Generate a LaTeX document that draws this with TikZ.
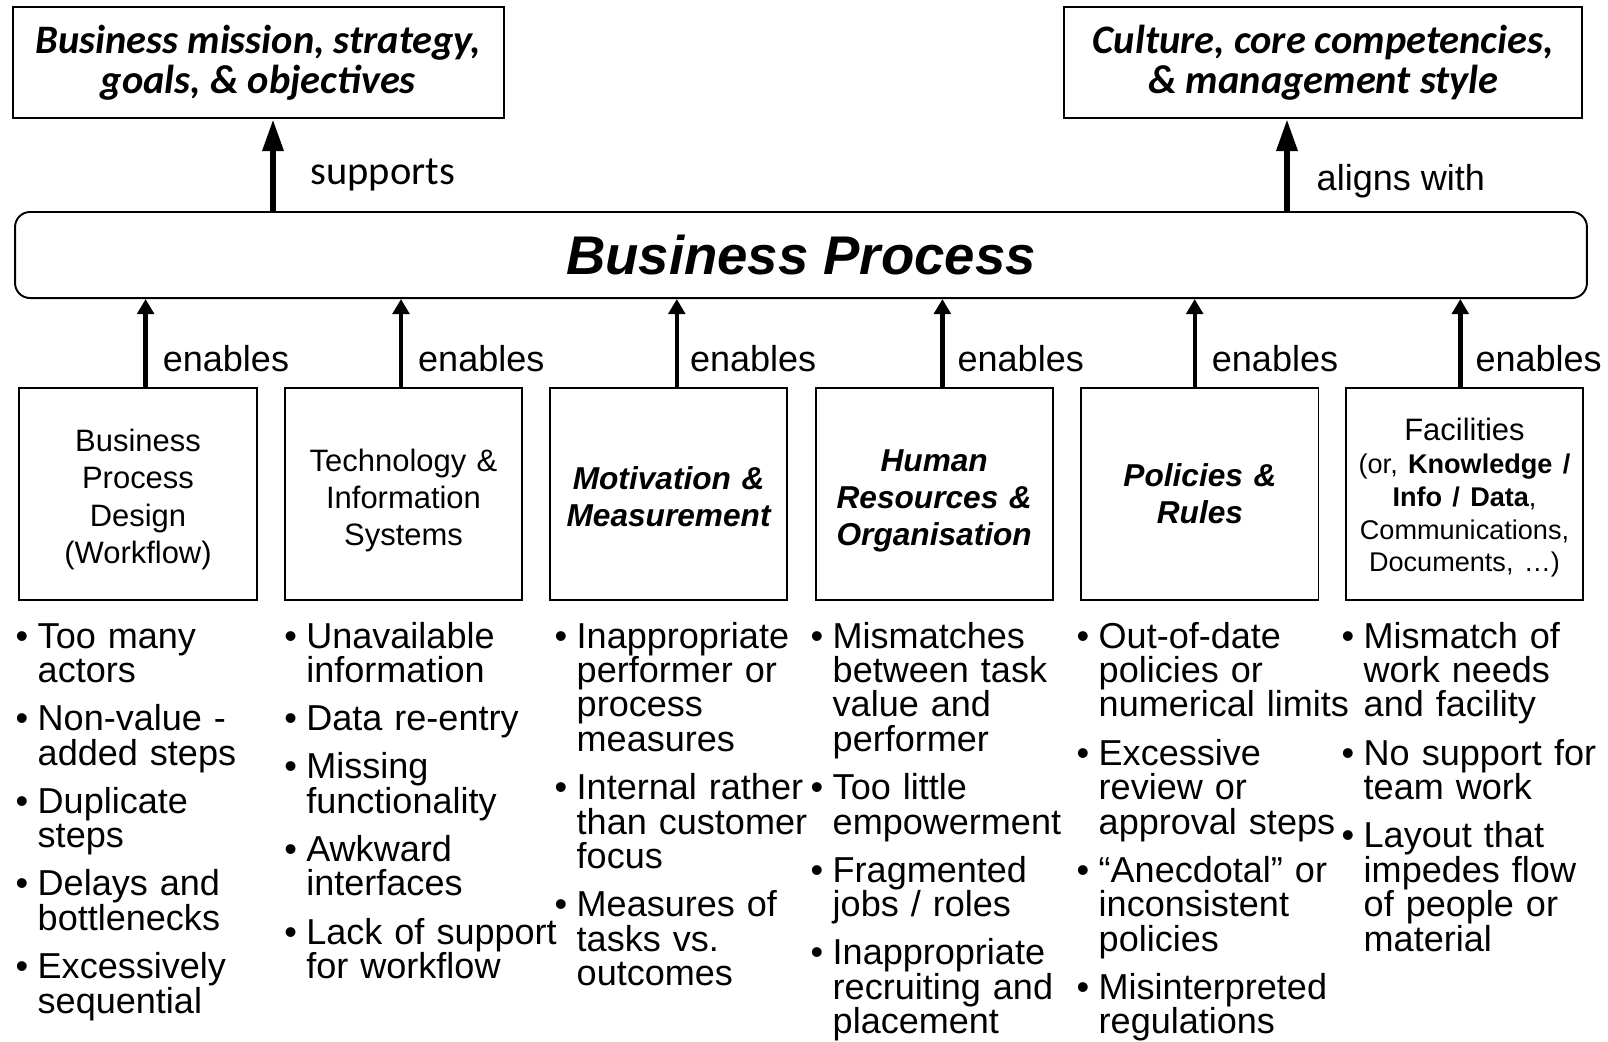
\documentclass[tikz,border=0pt]{standalone}
\usepackage{fontspec}
\setmainfont{Liberation Sans}
\newfontfamily\calibri{Carlito}
\usetikzlibrary{arrows.meta,positioning}

% one bullet point of a problem list
\newcommand{\issue}[1]{\par\hangindent=0.22cm\hangafter=1\noindent\makebox[0.22cm][l]{\textbullet}\rule{0pt}{7.5pt}#1\par}

\tikzset{
  goalbox/.style={draw, line width=0.55pt, minimum height=1.11cm, inner sep=0pt, align=center,
    font=\calibri\bfseries\itshape\fontsize{11.5}{11.4}\selectfont},
  procbox/.style={draw, line width=0.55pt, rounded corners=0.15cm, minimum width=15.71cm, minimum height=0.86cm,
    font=\bfseries\itshape\fontsize{15.5}{18}\selectfont},
  enabler/.style={draw, line width=0.55pt, text width=2.37cm, minimum height=2.11cm, inner sep=0pt, align=center,
    font=\fontsize{8.8}{10.6}\selectfont},
  keyenabler/.style={enabler, font=\bfseries\itshape\fontsize{9}{10.5}\selectfont},
  textdrop/.style={execute at begin node={\vskip#1}},
  bigarrow/.style={-{Triangle[length=0.32cm,width=0.2cm]}, line width=1.8pt},
  enarrow/.style={-{Triangle[length=0.15cm,width=0.165cm]}, line width=1.25pt},
  enlbl/.style={pos=0.326, anchor=west, xshift=0.15cm, inner sep=0pt, font=\fontsize{10.25}{12}\selectfont},
  lbl/.style={anchor=west, inner sep=0pt, font=\fontsize{10.25}{12}\selectfont},
  issues/.style={anchor=north west, inner sep=0pt, text width=2.8cm, align=left,
    font=\fontsize{10.25}{9.8}\selectfont,
    execute at begin node={\setlength{\parskip}{3.9pt}\lineskiplimit=-\maxdimen}}
}

\begin{document}
\begin{tikzpicture}[x=0.01cm, y=-0.01cm]
    \useasboundingbox (0,0) rectangle (1608,1041);

    % Goals at the top
    \node[goalbox, minimum width=4.90cm] (mission) at (258.4,62.6) {Business mission, strategy,\\goals, \& objectives};
    \node[goalbox, minimum width=5.18cm] (culture) at (1323.3,62.5) {Culture, core competencies,\\\& management style};

    % The process
    \node[procbox] (bp) at (801,255) {Business Process};

    \draw[bigarrow] ([xshift=0.146cm]mission.south |- bp.north) -- ([xshift=0.146cm]mission.south);
    \draw[bigarrow] ([xshift=-0.363cm]culture.south |- bp.north) -- ([xshift=-0.363cm]culture.south);
    \node[lbl, font=\calibri\fontsize{11.5}{14}\selectfont] (sup) at (310,175) {supports};
    \node[lbl] (ali) at (1316,181) {aligns with};

    % Enablers
    \node[enabler, textdrop=-0.04cm] (b1) at (138,494) {Business\\Process\\Design\\(Workflow)};
    \node[enabler, textdrop=-0.02cm] (b2) at (403.5,494) {Technology \&\\Information\\Systems};
    \node[keyenabler, textdrop=-0.08cm] (b3) at (668.6,494) {Motivation \&\\Measurement};
    \node[keyenabler, textdrop=-0.02cm] (b4) at (934.2,494) {Human\\Resources \&\\Organisation};
    \node[keyenabler] (b5) at (1199.9,494) {Policies \&\\Rules};
    \node[enabler, textdrop=-0.07cm] (b6) at (1464.5,494) {Facilities\\{\fontsize{7.7}{9.3}\selectfont (or, \textbf{Knowledge /}\\\textbf{Info / Data},\\Communications,\\Documents, …)\par}};

    \draw[enarrow] ([xshift=0.076cm]b1.north) -- node[enlbl] (e1) {enables} ([xshift=0.076cm]b1.north |- bp.south);
    \draw[enarrow] ([xshift=-0.025cm]b2.north) -- node[enlbl] (e2) {enables} ([xshift=-0.025cm]b2.north |- bp.south);
    \draw[enarrow] ([xshift=0.082cm]b3.north) -- node[enlbl, xshift=-0.04cm] (e3) {enables} ([xshift=0.082cm]b3.north |- bp.south);
    \draw[enarrow] ([xshift=0.082cm]b4.north) -- node[enlbl, xshift=-0.02cm] (e4) {enables} ([xshift=0.082cm]b4.north |- bp.south);
    \draw[enarrow] ([xshift=-0.052cm]b5.north) -- node[enlbl] (e5) {enables} ([xshift=-0.052cm]b5.north |- bp.south);
    \draw[enarrow] ([xshift=-0.042cm]b6.north) -- node[enlbl, xshift=-0.02cm] (e6) {enables} ([xshift=-0.042cm]b6.north |- bp.south);

    % Typical problems under each enabler
    \node[issues] (p1) at (15,599.1) {%
      \issue{Too many\newline actors}
      \issue{Non-value -\newline added steps}
      \issue{Duplicate\newline steps}
      \issue{Delays and\newline bottlenecks}
      \issue{Excessively\newline sequential}};
    \node[issues] (p2) at (283.6,599.1) {%
      \issue{Unavailable\newline information}
      \issue{Data re-entry}
      \issue{Missing\newline functionality}
      \issue{Awkward\newline interfaces}
      \issue{Lack of support\newline for workflow}};
    \node[issues] (p3) at (554,599.1) {%
      \issue{Inappropriate\newline performer or\newline process\newline measures}
      \issue{Internal rather\newline than customer\newline focus}
      \issue{Measures of\newline tasks vs.\newline outcomes}};
    \node[issues] (p4) at (810,599.1) {%
      \issue{Mismatches\newline between task\newline value and\newline performer}
      \issue{Too little\newline empowerment}
      \issue{Fragmented\newline jobs / roles}
      \issue{Inappropriate\newline recruiting and\newline placement}};
    \node[issues] (p5) at (1076,599.1) {%
      \issue{Out-of-date\newline policies or\newline numerical limits}
      \issue{Excessive\newline review or\newline approval steps}
      \issue{“Anecdotal” or\newline inconsistent\newline policies}
      \issue{Misinterpreted\newline regulations}};
    \node[issues] (p6) at (1341,599.1) {%
      \issue{Mismatch of\newline work needs\newline and facility}
      \issue{No support for\newline team work}
      \issue{Layout that\newline impedes flow\newline of people or\newline material}};
\end{tikzpicture}
\end{document}
